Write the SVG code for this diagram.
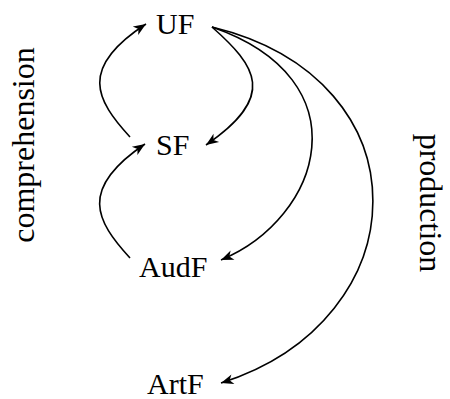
<svg xmlns="http://www.w3.org/2000/svg" width="450" height="399" viewBox="0 0 450 399">
  <style>
    .lbl { font-family: "Liberation Serif", "Times New Roman", serif; font-size: 30px; fill: #000; }
    .side { font-family: "Liberation Serif", "Times New Roman", serif; font-size: 32px; fill: #000; }
    .edge { fill: none; stroke: #000; stroke-width: 1.6; marker-end: url(#ah); }
  </style>
  <defs>
    <marker id="ah" viewBox="-13 -6 14 12" markerWidth="14" markerHeight="12" refX="0" refY="0" orient="auto" markerUnits="userSpaceOnUse">
      <path d="M 0 0 L -12.5 -5 L -9 0 L -12.5 5 Z" fill="#000"/>
    </marker>
  </defs>
  <rect width="450" height="399" fill="#fff"/>

  <!-- side labels -->
  <text class="side" transform="translate(34,145) rotate(-90)" text-anchor="middle">comprehension</text>
  <text class="side" transform="translate(420,203) rotate(90)" text-anchor="middle">production</text>

  <!-- nodes -->
  <g id="uf"><text class="lbl" x="156" y="34">UF</text></g>
  <g id="sf"><text class="lbl" x="156" y="155">SF</text></g>
  <g id="audf"><text class="lbl" x="139" y="277">AudF</text></g>
  <g id="artf"><text class="lbl" x="147" y="394">ArtF</text></g>

  <!-- connectors -->
  <g id="connectors">
    <path class="edge" d="M 130 137 C 96 100, 78 68, 146 24"/>
    <path class="edge" d="M 212 27 C 256 66, 278 96, 206 145"/>
    <path class="edge" d="M 130 258 C 96 221, 78 189, 145 144"/>
    <path class="edge" d="M 212 27 C 365 80, 322 218, 221 260"/>
    <path class="edge" d="M 212 27 C 430 80, 420 320, 221 383"/>
  </g>
</svg>
